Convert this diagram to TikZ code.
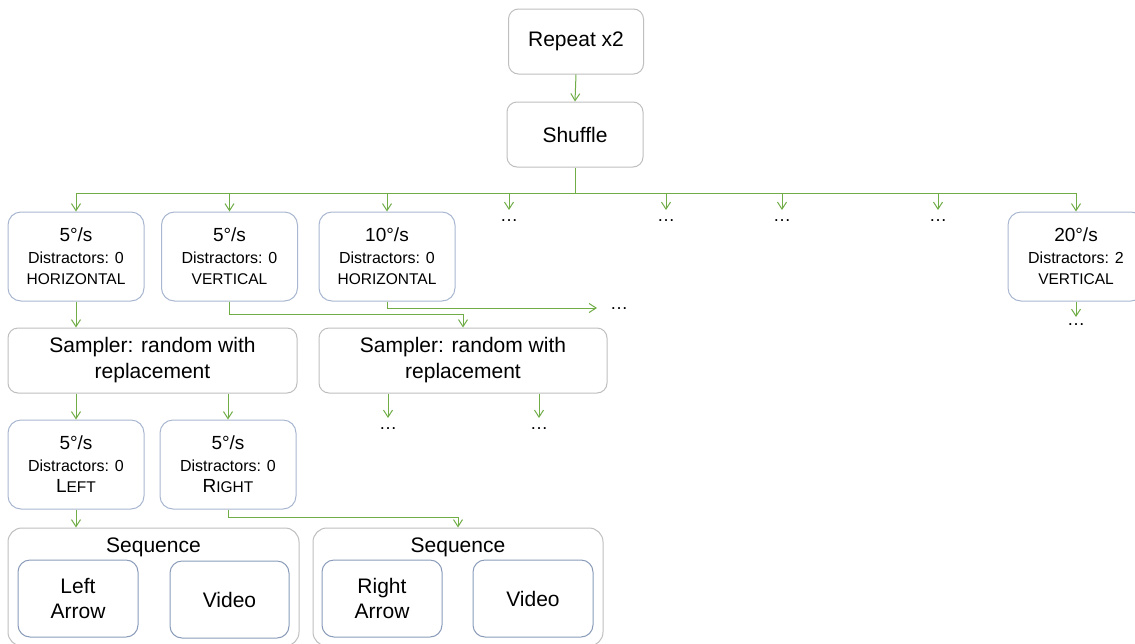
\documentclass[tikz,border=0pt]{standalone}
\usepackage{fontspec}
\setmainfont{Liberation Sans}
\usetikzlibrary{arrows.meta}
\definecolor{grn}{HTML}{70AD47}
\definecolor{bluegray}{HTML}{A9B7D0}
\definecolor{graybd}{HTML}{BFBFBF}
\definecolor{innerbd}{HTML}{8A9CBA}
\tikzset{
  box/.style={draw=graybd, line width=1pt, rounded corners=10pt, align=center, inner sep=0pt, font=\fontsize{21}{26}\selectfont},
  lvl/.style={draw=bluegray, line width=1pt, rounded corners=13pt, align=center, inner sep=0pt,
              minimum width=136pt, minimum height=89pt, font=\fontsize{16}{21.5}\selectfont},
  innerbox/.style={draw=innerbd, line width=1pt, rounded corners=12pt, align=center, inner sep=0pt,
              minimum width=120pt, minimum height=77pt, font=\fontsize{21}{25}\selectfont},
  conn/.style={draw=grn, line width=1pt, -{Straight Barb[length=7pt,width=9pt]}},
  dots/.style={inner sep=0pt, font=\fontsize{18}{18}\selectfont},
  lab/.style={inner sep=0pt, font=\fontsize{21}{26}\selectfont, anchor=base},
}
\newcommand{\spd}[1]{{\fontsize{19}{21.5}\selectfont #1}}
\newcommand{\smc}[1]{{\fontsize{15.5}{21.5}\selectfont #1}}
\begin{document}
\begin{tikzpicture}[x=1pt,y=-1pt]
\fill[white] (0,0) rectangle (1135,643);
\useasboundingbox (0,0) rectangle (1135,643);

% top
\node[box, minimum width=135pt, minimum height=65pt] (rep) at (576,41.5) {Repeat x2};
\node[box, minimum width=136pt, minimum height=65pt] (shuf) at (575,134.5) {Shuffle};

% level 1
\node[lvl] (b1) at (76,256.5) {\spd{5°/s}\\Distractors: 0\\\smc{HORIZONTAL}};
\node[lvl] (b2) at (229.5,256.5) {\spd{5°/s}\\Distractors: 0\\\smc{VERTICAL}};
\node[lvl] (b3) at (387,256.5) {\spd{10°/s}\\Distractors: 0\\\smc{HORIZONTAL}};
\node[lvl] (b4) at (1076,256.5) {\spd{20°/s}\\Distractors: 2\\\smc{VERTICAL}};

\node[dots] (d1) at (509,221) {…};
\node[dots] (d2) at (666,221) {…};
\node[dots] (d3) at (782,221) {…};
\node[dots] (d4) at (938,221) {…};
\coordinate (t1) at (509,210);
\coordinate (t2) at (666,210);
\coordinate (t3) at (782,210);
\coordinate (t4) at (938,210);

% samplers
\node[box, minimum width=289pt, minimum height=65pt] (s1) at (152.5,360.5) {Sampler: random with\\replacement};
\node[box, minimum width=288pt, minimum height=65pt] (s2) at (463,360.5) {Sampler: random with\\replacement};

\node[dots] (d5) at (619,309) {…};
\coordinate (t5) at (597,308);
\node[dots] (d6) at (1076,325) {…};
\coordinate (t6) at (1076,317);
\node[dots] (d7) at (388,429) {…};
\node[dots] (d8) at (539,429) {…};
\coordinate (t7) at (388,418);
\coordinate (t8) at (539,418);

% level 3
\node[lvl] (bl) at (76,464.5) {\spd{5°/s}\\Distractors: 0\\\spd{L}\smc{EFT}};
\node[lvl] (br) at (228,464.5) {\spd{5°/s}\\Distractors: 0\\\spd{R}\smc{IGHT}};

% sequences
\node[draw=graybd, line width=1pt, rounded corners=14pt, minimum width=291pt, minimum height=118pt, inner sep=0pt] (seq1) at (153.5,587) {};
\node[draw=graybd, line width=1pt, rounded corners=14pt, minimum width=290pt, minimum height=118pt, inner sep=0pt] (seq2) at (458,587) {};
\node[lab] (seq1lab) at (153.5,552) {Sequence};
\node[lab] (seq2lab) at (458,552) {Sequence};
\node[innerbox] (la) at (78,598.5) {Left\\Arrow};
\node[innerbox, minimum width=119pt] (v1) at (229.5,599.5) {Video};
\node[innerbox] (ra) at (382,598.5) {Right\\Arrow};
\node[innerbox] (v2) at (533,598.5) {Video};

% connectors
\coordinate (bus) at (575,193);
\draw[conn] (rep.south) -- (shuf.north);
\draw[conn] (shuf.south) -- (bus) -| (b1.north);
\draw[conn] (bus) -| (b2.north);
\draw[conn] (bus) -| (b3.north);
\draw[conn] (bus) -| (t1);
\draw[conn] (bus) -| (t2);
\draw[conn] (bus) -| (t3);
\draw[conn] (bus) -| (t4);
\draw[conn] (bus) -| (b4.north);

\draw[conn] (b1.south) -- (s1.north -| b1.south);
\draw[conn] (b2.south) -- ++(0,13) -| (s2.north);
\draw[conn] (b3.south) |- (t5);
\draw[conn] (b4.south) -- (t6);

\draw[conn] (s1.south -| bl.north) -- (bl.north);
\draw[conn] (s1.south -| br.north) -- (br.north);
\draw[conn] (s2.south -| t7) -- (t7);
\draw[conn] (s2.south -| t8) -- (t8);

\draw[conn] (bl.south) -- (seq1.north -| bl.south);
\draw[conn] (br.south) -- ++(0,8) -| (seq2.north);
\end{tikzpicture}
\end{document}
